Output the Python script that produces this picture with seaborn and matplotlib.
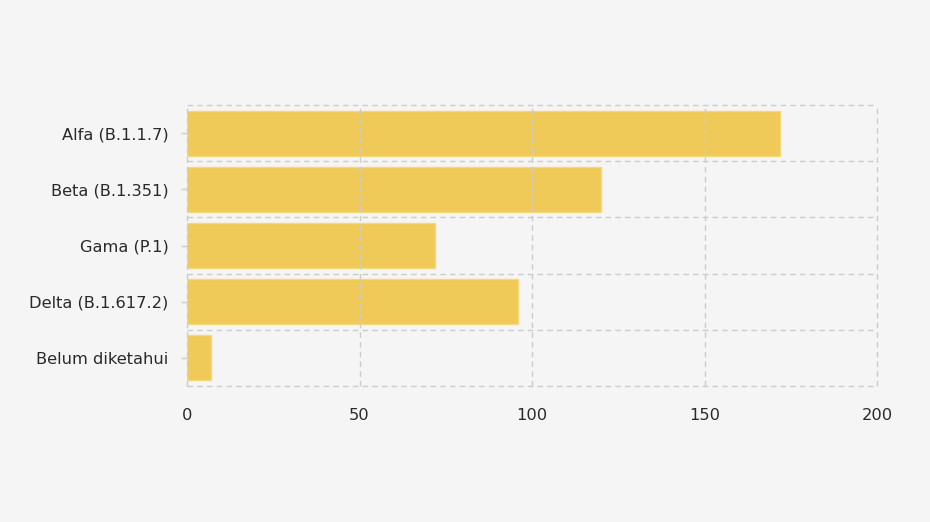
import matplotlib
matplotlib.use("Agg")
import matplotlib.pyplot as plt
import seaborn as sns
import pandas as pd
import numpy as np

categories = ["Alfa (B.1.1.7)", "Beta (B.1.351)", "Gama (P.1)", "Delta (B.1.617.2)", "Belum diketahui"]
values = [172, 120, 72, 96, 7]
xticks = [0, 50, 100, 150, 200]

sns.set_theme(style="white")
plt.rcParams['font.family'] = ['DejaVu Sans']

bg = "#f5f5f5"
fig = plt.figure(figsize=(9.3, 5.22), dpi=100, facecolor=bg)
ax = fig.add_axes([187/930, 1-386/522, 690/930, 281/522])
ax.set_facecolor(bg)

df = pd.DataFrame({"cat": categories, "val": values})
sns.barplot(data=df, x="val", y="cat", orient="h", color="#f0c648", width=0.8,
            saturation=1, alpha=0.9, edgecolor="#f5d77a", linewidth=1, ax=ax)

ax.set_xlim(0, 200)
ax.set_ylim(len(categories)-0.5, -0.5)
ax.set_xticks(xticks)
ax.set_xticklabels([str(t) for t in xticks])
ax.set_yticks(np.arange(len(categories)))
ax.set_xlabel("")
ax.set_ylabel("")
for s in ax.spines.values():
    s.set_visible(False)

ax.grid(False)
grid_kw = dict(linestyle=(0, (4, 3)), color="#cccccc", linewidth=1, clip_on=False, zorder=5)
for xv in xticks:
    ax.axvline(xv, **grid_kw)
for yb in np.arange(len(categories)+1) - 0.5:
    ax.axhline(yb, **grid_kw)

ax.tick_params(axis="x", which="major", length=0, pad=16, labelsize=11.7, labelcolor="#2a2a2a")
ax.tick_params(axis="y", which="major", length=4.5, width=1, color="#cccccc", pad=9, labelsize=11.7, labelcolor="#2a2a2a", left=True)

fig.savefig("out.png", dpi=100, facecolor=bg)
